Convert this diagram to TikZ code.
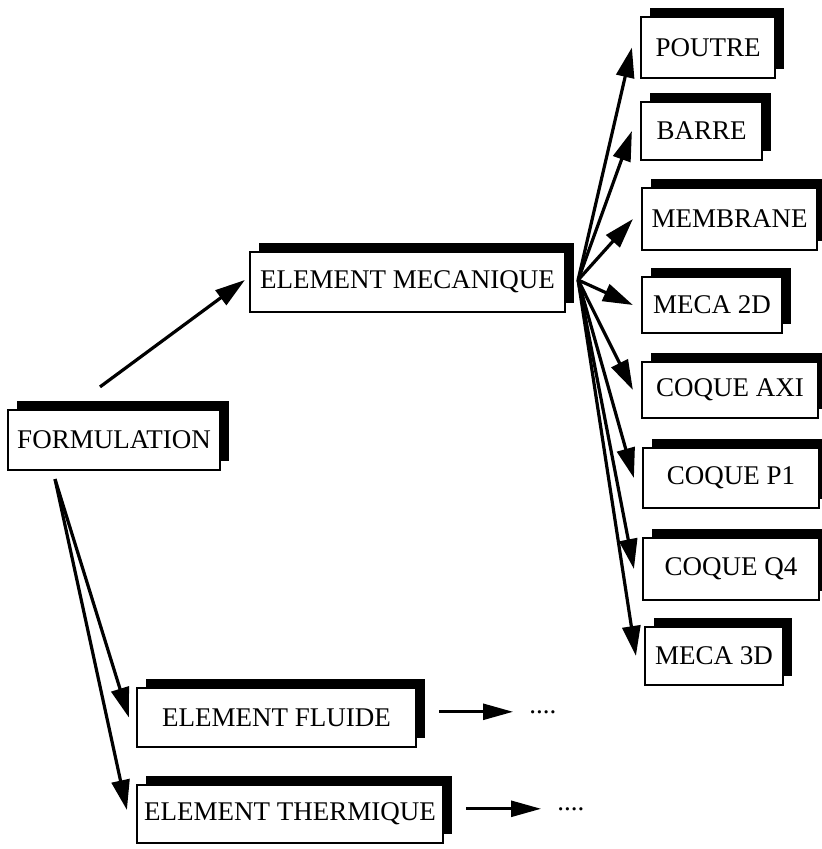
\documentclass[tikz,border=0pt]{standalone}
\usepackage{fontspec}
\setmainfont{Liberation Serif}
\usetikzlibrary{arrows.meta,shadows}

\begin{document}
\begin{tikzpicture}[x=0.5pt,y=-0.5pt,
    elem/.style={draw,fill=white,line width=1.1pt,inner sep=0pt,
      font=\fontsize{13.5}{16}\selectfont,
      drop shadow={shadow xshift=4.5pt,shadow yshift=4.5pt,fill=black,opacity=1}},
    suite/.style={inner sep=0pt,anchor=base west,font=\fontsize{13.5}{16}\selectfont},
    fleche/.style={line width=1.6pt,-{Triangle[length=15pt,width=9pt]}},
    petite/.style={line width=1.3pt,-{Triangle[length=15pt,width=8pt]},
      shorten <=11pt,shorten >=8pt}]
  \useasboundingbox (0,0) rectangle (822,849) ;
  % formulation et familles
  \node[elem,minimum width=106pt,minimum height=30pt] (form) at (114,440) {FORMULATION} ;
  \node[elem,minimum width=157.5pt,minimum height=30pt] (meca) at (407.5,282) {ELEMENT MECANIQUE} ;
  \node[elem,minimum width=139.5pt,minimum height=29.5pt] (fluide) at (276.5,717.5) {ELEMENT FLUIDE} ;
  \node[elem,minimum width=153pt,minimum height=29pt] (thermique) at (290,814) {ELEMENT THERMIQUE} ;
  % elements mecaniques
  \node[elem,minimum width=67pt,minimum height=30.5pt] (poutre) at (708,47.5) {POUTRE} ;
  \node[elem,minimum width=60.5pt,minimum height=29pt] (barre) at (701.5,131) {BARRE} ;
  \node[elem,minimum width=87.5pt,minimum height=31pt] (membrane) at (729.5,219) {MEMBRANE} ;
  \node[elem,minimum width=70pt,minimum height=28pt] (meca2d) at (712,305) {MECA 2D} ;
  \node[elem,minimum width=88pt,minimum height=28pt] (coqueaxi) at (730,390) {COQUE AXI} ;
  \node[elem,minimum width=88pt,minimum height=30pt] (coquep1) at (731,478) {COQUE P1} ;
  \node[elem,minimum width=88pt,minimum height=31pt] (coqueq4) at (731,569) {COQUE Q4} ;
  \node[elem,minimum width=69pt,minimum height=29pt] (meca3d) at (714,656) {MECA 3D} ;
  % suites
  \node[suite] (fdots) at (529,713) {....} ;
  \node[suite] (tdots) at (557,810) {....} ;
  % fleches
  \draw[fleche] ([xshift=-7pt,yshift=11pt]form.north) -- ([xshift=-2pt,yshift=1pt]meca.west) ;
  \draw[fleche] ([xshift=-29.5pt,yshift=-4pt]form.south) -- ([xshift=-3.5pt]fluide.west) ;
  \draw[fleche] ([xshift=-29.5pt,yshift=-4pt]form.south) -- ([xshift=-4.5pt,yshift=2pt]thermique.west) ;
  \foreach \cible in {poutre,barre,membrane,meca2d,coqueaxi,coquep1,coqueq4,meca3d}
    \draw[fleche] ([xshift=6pt,yshift=1pt]meca.east) -- ([xshift=-4pt]\cible.west) ;
  \draw[petite] (fluide.east |- fdots) -- (fdots.west) ;
  \draw[petite] (thermique.east |- tdots) -- (tdots.west) ;
\end{tikzpicture}
\end{document}
